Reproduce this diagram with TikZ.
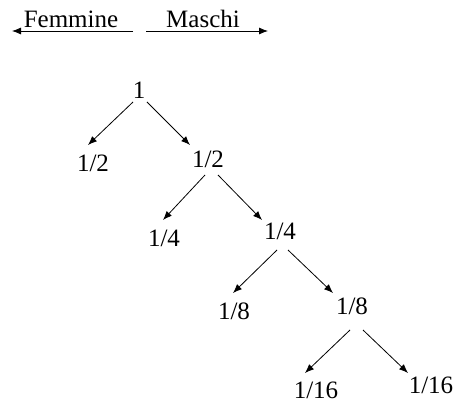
\documentclass[tikz,border=0pt]{standalone}
\usepackage{fontspec}
\setmainfont{Liberation Serif}
\usetikzlibrary{arrows.meta,calc}
\begin{document}
\begin{tikzpicture}[x=1pt,y=-1pt,
  lbl/.style={inner sep=0pt,anchor=base,font=\fontsize{25}{30}\selectfont},
  arr/.style={line width=0.8pt,-{Latex[length=9pt,width=7pt]}}]
\useasboundingbox (0,0) rectangle (458,403);
% header
\node[lbl] (fem) at (71,28) {Femmine};
\node[lbl] (mas) at (203,28) {Maschi};
\draw[arr] ($(fem.base)+(62,3)$) -- ($(fem.base)+(-59,3)$);
\draw[arr] ($(mas.base)+(-57,3)$) -- ($(mas.base)+(65,3)$);
% tree
\node[lbl] (n1)  at (139,98.5) {1};
\node[lbl] (n2L) at (93,172) {1/2};
\node[lbl] (n2R) at (208,168) {1/2};
\node[lbl] (n3L) at (164,247) {1/4};
\node[lbl] (n3R) at (280,240) {1/4};
\node[lbl] (n4L) at (234,320) {1/8};
\node[lbl] (n4R) at (352,315) {1/8};
\node[lbl] (n5L) at (316,399) {1/16};
\node[lbl] (n5R) at (431,393) {1/16};
\draw[arr] ($(n1.base)+(-6,3.5)$) -- ($(n2L.base)+(-5,-27)$);
\draw[arr] ($(n1.base)+(8,3.5)$) -- ($(n2R.base)+(-18,-23)$);
\draw[arr] ($(n2R.base)+(-3,7)$) -- ($(n3L.base)+(-1,-27)$);
\draw[arr] ($(n2R.base)+(10,7)$) -- ($(n3R.base)+(-18,-20)$);
\draw[arr] ($(n3R.base)+(-3,10)$) -- ($(n4L.base)+(-1,-27)$);
\draw[arr] ($(n3R.base)+(8,10)$) -- ($(n4R.base)+(-19,-22)$);
\draw[arr] ($(n4R.base)+(-2,15)$) -- ($(n5L.base)+(-11,-26)$);
\draw[arr] ($(n4R.base)+(11,15)$) -- ($(n5R.base)+(-23,-20)$);
\end{tikzpicture}
\end{document}
